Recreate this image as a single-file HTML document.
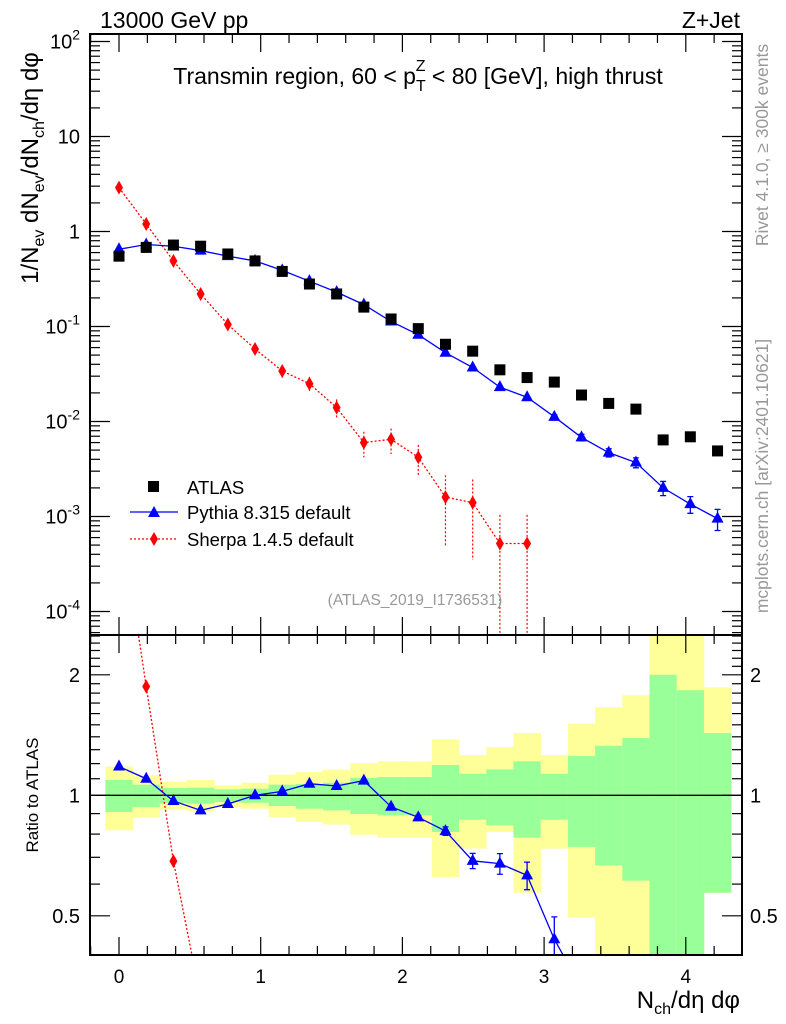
<!DOCTYPE html>
<html><head><meta charset="utf-8"><style>
html,body{margin:0;padding:0;background:#fff;width:786px;height:1024px;overflow:hidden;}
svg{display:block;font-family:"Liberation Sans",sans-serif;}
</style></head><body>
<svg id="c" width="786" height="1024" viewBox="0 0 786 1024" xmlns="http://www.w3.org/2000/svg">
<g id="bands"></g>
<g id="marks"></g>
<g id="axes"></g>
<text x="100" y="28" font-size="23">13000 GeV pp</text>
<text x="740" y="28" font-size="23" text-anchor="end">Z+Jet</text>
<text x="418" y="84" font-size="23" text-anchor="middle">Transmin region, 60 &lt; p<tspan font-size="16" dy="7">T</tspan><tspan font-size="16" dx="-10" dy="-20">Z</tspan><tspan dy="13"> &lt; 80 [GeV], high thrust</tspan></text>
<text x="415" y="605" font-size="15.5" fill="#999" text-anchor="middle">(ATLAS_2019_I1736531)</text>
<text transform="translate(768,145) rotate(-90)" font-size="17.5" fill="#999" text-anchor="middle">Rivet 4.1.0, ≥ 300k events</text>
<text transform="translate(768,476) rotate(-90)" font-size="17.5" fill="#999" text-anchor="middle">mcplots.cern.ch [arXiv:2401.10621]</text>
<text transform="translate(38,168) rotate(-90)" font-size="24" text-anchor="middle">1/N<tspan font-size="16" dy="6">ev</tspan><tspan dy="-6"> dN</tspan><tspan font-size="16" dy="6">ev</tspan><tspan dy="-6">/dN</tspan><tspan font-size="16" dy="6">ch</tspan><tspan dy="-6">/dη dφ</tspan></text>
<text transform="translate(38,795) rotate(-90)" font-size="17" text-anchor="middle">Ratio to ATLAS</text>
<text x="740" y="1008" font-size="24" text-anchor="end">N<tspan font-size="16" dy="6">ch</tspan><tspan dy="-6">/dη dφ</tspan></text>
<g>
<rect x="148" y="481" width="11" height="11" fill="#000"/>
<text x="187" y="494" font-size="18.5">ATLAS</text>
<line x1="130" y1="512" x2="178" y2="512" stroke="#00f" stroke-width="1.3"/>
<polygon points="154,506 160,517 148,517" fill="#00f"/>
<text x="187" y="519" font-size="18.5">Pythia 8.315 default</text>
<line x1="130" y1="539" x2="178" y2="539" stroke="#f00" stroke-width="1.3" stroke-dasharray="2,2"/>
<polygon points="154,532 158,539 154,546 150,539" fill="#f00"/>
<text x="187" y="546" font-size="18.5">Sherpa 1.4.5 default</text>
</g>
</svg>
<script>
const xCenters=[0,0.192,0.384,0.576,0.768,0.96,1.152,1.344,1.536,1.728,1.92,2.112,2.304,2.496,2.688,2.88,3.072,3.264,3.456,3.648,3.84,4.032,4.224];
const atlasVals=[0.55,0.68,0.72,0.70,0.58,0.49,0.38,0.28,0.22,0.16,0.12,0.095,0.065,0.055,0.035,0.029,0.026,0.019,0.0155,0.0135,0.0064,0.0069,0.0049];
const pythiaVals=[0.65,0.73,0.70,0.63,0.55,0.49,0.39,0.30,0.23,0.17,0.113,0.082,0.053,0.037,0.023,0.018,0.0112,0.0068,0.0047,0.0037,0.0020,0.00135,0.00095];
const pythiaErr=[0,0,0,0,0,0,0,0,0,0,0,0,0,0,0,0,0.05,0.08,0.1,0.12,0.17,0.2,0.25];
const sherpaVals=[2.9,1.2,0.49,0.22,0.105,0.058,0.034,0.025,0.014,0.006,0.0065,0.0042,0.0016,0.0014,0.00052,0.00052];
const sherpaErr=[0.03,0.04,0.05,0.06,0.08,0.1,0.15,0.18,0.22,0.3,0.3,0.35,0.7,0.75,1,1];
const pythiaRatio=[1.18,1.10,0.968,0.917,0.951,1.0,1.023,1.069,1.055,1.088,0.936,0.881,0.814,0.686,0.675,0.631,0.437,0.33,0.30,0.27,0.31,0.20,0.19];
const pythiaRatioErr=[0,0,0,0,0,0,0,0,0,0,0.01,0.01,0.02,0.03,0.04,0.05,0.06,0,0,0,0,0,0];
const sherpaRatio=[5.3,1.87,0.685,0.31];
const yelUp=[1.18,1.122,1.08,1.092,1.059,1.075,1.126,1.143,1.159,1.204,1.216,1.216,1.38,1.26,1.32,1.43,1.26,1.51,1.66,1.78,3,3,1.86];
const yelDn=[0.818,0.879,0.92,0.912,0.935,0.926,0.881,0.858,0.845,0.797,0.784,0.784,0.625,0.736,0.81,0.571,0.736,0.495,0.3,0.3,0.3,0.3,0.571];
const grnUp=[1.092,1.063,1.043,1.045,1.035,1.039,1.063,1.067,1.075,1.105,1.111,1.111,1.19,1.132,1.161,1.216,1.132,1.254,1.33,1.39,2.0,1.83,1.43];
const grnDn=[0.908,0.935,0.957,0.953,0.962,0.958,0.94,0.926,0.917,0.898,0.891,0.891,0.81,0.869,0.841,0.784,0.869,0.743,0.668,0.612,0.3,0.3,0.571];
const xTicks=[0,1,2,3,4];
const yMainTicks=[2,1,0,-1,-2,-3,-4];
const yRatioTicks=[2,1,0.5];

const NS="http://www.w3.org/2000/svg";
const L=90,R=742,T1=34,B1=635,T2=635,B2=955;
const X=v=>119+v*141.7;
const Y=v=>231.5-Math.log10(v)*95;
const YR=v=>795.3-Math.log2(v)*120.5;
function mk(parent,tag,attrs){const e=document.createElementNS(NS,tag);for(const k in attrs)e.setAttribute(k,attrs[k]);document.getElementById(parent).appendChild(e);return e;}
const half=0.096;
const defs=document.createElementNS(NS,'defs');
defs.innerHTML='<clipPath id="cm"><rect x="'+L+'" y="'+T1+'" width="'+(R-L)+'" height="'+(B1-T1)+'"/></clipPath><clipPath id="cr"><rect x="'+L+'" y="'+T2+'" width="'+(R-L)+'" height="'+(B2-T2)+'"/></clipPath>';
document.getElementById('c').prepend(defs);
document.getElementById('bands').setAttribute('clip-path','url(#cr)');
for(let i=0;i<xCenters.length;i++){
 const x0=X(xCenters[i]-half),x1=X(xCenters[i]+half);
 const y=mk('bands','rect',{x:x0,y:YR(yelUp[i]),width:x1-x0+0.3,height:YR(yelDn[i])-YR(yelUp[i]),fill:'#ffff99'});
 
 
 const g=mk('bands','rect',{x:x0,y:YR(grnUp[i]),width:x1-x0+0.3,height:YR(grnDn[i])-YR(grnUp[i]),fill:'#99ff99'});
 
 
}
mk('bands','line',{x1:L,x2:R,y1:YR(1),y2:YR(1),stroke:'#000','stroke-width':1.3});
const gm=mk('marks','g',{'clip-path':'url(#cm)'});gm.id='gm';
const gr=mk('marks','g',{'clip-path':'url(#cr)'});gr.id='gr';
function tri(parent,x,y,col){return mk(parent,'polygon',{points:`${x},${y-7} ${x+6},${y+4} ${x-6},${y+4}`,fill:col});}
function dia(parent,x,y){return mk(parent,'polygon',{points:`${x},${y-7} ${x+4},${y} ${x},${y+7} ${x-4},${y}`,fill:'#f00'});}
let pts=sherpaVals.map((v,i)=>X(xCenters[i])+','+Y(v)).join(' ');
const sl=mk('gm','polyline',{points:pts,fill:'none',stroke:'#f00','stroke-width':1.3,'stroke-dasharray':'2,2'});


sherpaVals.forEach((v,i)=>{const x=X(xCenters[i]);
 const lo=v*(1-sherpaErr[i]);const y2=lo>0?Y(lo):B1+5;
 const e=mk('gm','line',{x1:x,x2:x,y1:Y(v*(1+sherpaErr[i])),y2:y2,stroke:'#f00','stroke-width':1.2,'stroke-dasharray':'2,2'});
 
 
 const d=dia('gm',x,Y(v));
 
 });
pts=pythiaVals.map((v,i)=>X(xCenters[i])+','+Y(v)).join(' ');
const pl=mk('gm','polyline',{points:pts,fill:'none',stroke:'#00f','stroke-width':1.3});


pythiaVals.forEach((v,i)=>{const x=X(xCenters[i]);
 if(pythiaErr[i]>0){const a=Y(v*(1+pythiaErr[i])),b=Y(v*(1-pythiaErr[i]));
  const e=mk('gm','path',{d:`M${x},${a}V${b}M${x-3},${a}H${x+3}M${x-3},${b}H${x+3}`,stroke:'#00f','stroke-width':1.3,fill:'none'});
  
  }
 const t=tri('gm',x,Y(v),'#00f');
 
 });
atlasVals.forEach((v,i)=>{const r=mk('gm','rect',{x:X(xCenters[i])-5.5,y:Y(v)-5.5,width:11,height:11,fill:'#000'});
 
 });
pts=sherpaRatio.map((v,i)=>X(xCenters[i])+','+YR(v)).join(' ');
const srl=mk('gr','polyline',{points:pts,fill:'none',stroke:'#f00','stroke-width':1.3,'stroke-dasharray':'2,2'});


sherpaRatio.forEach((v,i)=>{const d=dia('gr',X(xCenters[i]),YR(v));
 
 });
pts=pythiaRatio.map((v,i)=>X(xCenters[i])+','+YR(v)).join(' ');
const prl=mk('gr','polyline',{points:pts,fill:'none',stroke:'#00f','stroke-width':1.3});


pythiaRatio.forEach((v,i)=>{const x=X(xCenters[i]);
 if(pythiaRatioErr[i]>0){const a=YR(v+pythiaRatioErr[i]),b=YR(v-pythiaRatioErr[i]);
  const e=mk('gr','path',{d:`M${x},${a}V${b}M${x-3},${a}H${x+3}M${x-3},${b}H${x+3}`,stroke:'#00f','stroke-width':1.3,fill:'none'});
  
  }
 const t=tri('gr',x,YR(v),'#00f');
 
 });
[[T1,B1],[T2,B2]].forEach(([t,b])=>{const f=mk('axes','rect',{x:L,y:t,width:R-L,height:b-t,fill:'none',stroke:'#000','stroke-width':2});
 
 });
function tick(x1,y1,x2,y2){mk('axes','line',{x1,y1,x2,y2,stroke:'#000','stroke-width':1.2});}
for(let v=-0.2;v<=4.4;v+=0.2){const x=X(v);if(x<L||x>R)continue;const maj=Math.abs(v-Math.round(v))<1e-6;const len=maj?18:9;
 [[T1,1],[B1,-1],[T2,1],[B2,-1]].forEach(([y,s])=>tick(x,y,x,y+s*len));}
xTicks.forEach(v=>{const t=mk('axes','text',{x:X(v),y:983,'font-size':19,'text-anchor':'middle'});t.textContent=v;
 
 });
for(let d=-5;d<=2;d++){for(let m=1;m<10;m++){const v=m*Math.pow(10,d);const y=Y(v);if(y<T1||y>B1)continue;const len=m==1?20:10;
 tick(L,y,L+len,y);tick(R,y,R-len,y);}}
yMainTicks.forEach(e=>{const y=Y(Math.pow(10,e));const t=mk('axes','text',{x:80,y:y+7,'font-size':20,'text-anchor':'end'});
 if(e==0)t.textContent='1';else if(e==1)t.textContent='10';else t.innerHTML='10<tspan font-size="14" dy="-9">'+e+'</tspan>';
 
 });
for(let v=0.4;v<=2.55;v+=0.1){const y=YR(v);if(y<T2||y>B2)continue;const maj=[0.5,1,2].some(m=>Math.abs(m-v)<1e-6);const len=maj?20:10;
 tick(L,y,L+len,y);tick(R,y,R-len,y);}
yRatioTicks.forEach(v=>{const y=YR(v);
 const t=mk('axes','text',{x:80,y:y+7,'font-size':20,'text-anchor':'end'});t.textContent=v;
 
 
 const t2=mk('axes','text',{x:750,y:y+7,'font-size':20});t2.textContent=v;
 
 });
</script>
</body></html>
